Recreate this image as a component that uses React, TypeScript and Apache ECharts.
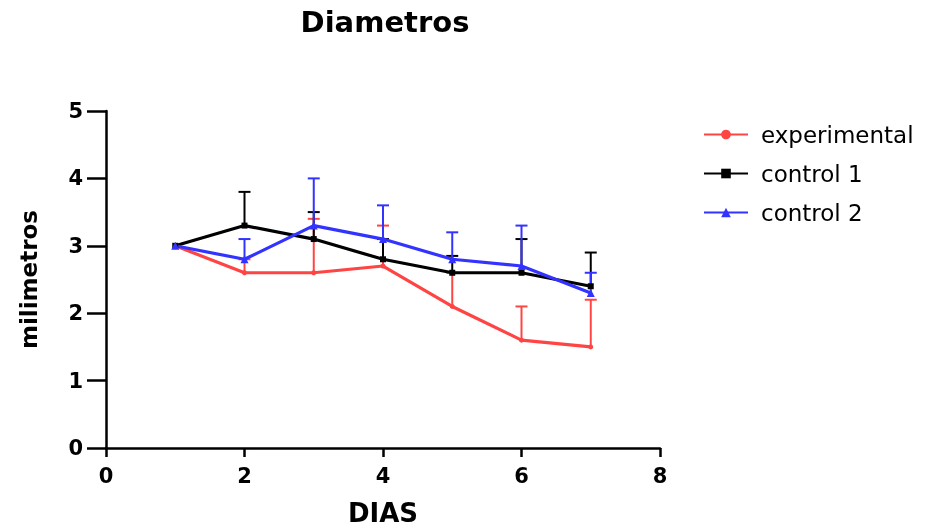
import React, { useEffect, useRef } from "react";
import * as echarts from "echarts";

const days = [1, 2, 3, 4, 5, 6, 7];
const experimental = [3.0, 2.6, 2.6, 2.7, 2.1, 1.6, 1.5];
const experimentalSd = [0, 0.2, 0.8, 0.6, 0.5, 0.5, 0.7];
const control1 = [3.0, 3.3, 3.1, 2.8, 2.6, 2.6, 2.4];
const control1Sd = [0, 0.5, 0.4, 0.3, 0.25, 0.5, 0.5];
const control2 = [3.0, 2.8, 3.3, 3.1, 2.8, 2.7, 2.3];
const control2Sd = [0, 0.3, 0.7, 0.5, 0.4, 0.6, 0.3];
const xTicks = [0, 2, 4, 6, 8];
const yTicks = [0, 1, 2, 3, 4, 5];

const FONT = "'DejaVu Sans', Verdana, sans-serif";

export default function App() {
  const ref = useRef<HTMLDivElement>(null);
  useEffect(() => {
    if (!ref.current) return;
    const chart = echarts.init(ref.current, null, { renderer: "svg" });

    const errSeries = (name: string, vals: number[], sds: number[], color: string) => ({
      name,
      type: "custom",
      z: 1,
      silent: true,
      data: days.map((d, i) => [d, vals[i], vals[i] + sds[i], sds[i]]),
      renderItem: (params: any, api: any) => {
        const sd = api.value(3);
        if (!sd) return null;
        const p0 = api.coord([api.value(0), api.value(1)]);
        const p1 = api.coord([api.value(0), api.value(2)]);
        return {
          type: "group",
          children: [
            { type: "line", shape: { x1: p0[0], y1: p0[1], x2: p1[0], y2: p1[1] }, style: { stroke: color, lineWidth: 2 } },
            { type: "line", shape: { x1: p1[0] - 6, y1: p1[1], x2: p1[0] + 6, y2: p1[1] }, style: { stroke: color, lineWidth: 2 } },
          ],
        };
      },
    });

    const lineSeries = (name: string, vals: number[], color: string, symbol: string, size: number) => ({
      name,
      type: "line",
      z: 3,
      data: days.map((d, i) => [d, vals[i]]),
      symbol,
      symbolSize: size,
      showSymbol: true,
      lineStyle: { color, width: 3.2 },
      itemStyle: { color },
    });

    chart.setOption({
      animation: false,
      textStyle: { fontFamily: FONT },
      title: {
        text: "Diametros",
        left: 380,
        top: 2,
        textAlign: "center",
        textStyle: { fontSize: 29, fontWeight: "bold", color: "#000", fontFamily: FONT },
      },
      legend: {
        orient: "vertical",
        left: 698,
        top: 118,
        itemWidth: 44,
        itemHeight: 12,
        itemGap: 16,
        data: ["experimental", "control 1", "control 2"],
        textStyle: { fontSize: 23, color: "#000", fontFamily: FONT, padding: [0, 0, 0, 8] },
      },
      grid: { left: 106, right: 278, top: 111, bottom: 78 },
      xAxis: {
        type: "value",
        min: xTicks[0],
        max: xTicks[xTicks.length - 1],
        interval: 2,
        name: "DIAS",
        nameLocation: "middle",
        nameGap: 52,
        nameTextStyle: { fontSize: 26, fontWeight: "bold", color: "#000", fontFamily: FONT },
        axisLine: { onZero: false, lineStyle: { color: "#000", width: 2.5 } },
        axisTick: { show: true, length: 9, lineStyle: { color: "#000", width: 2.5 } },
        axisLabel: { fontSize: 21, fontWeight: "bold", color: "#000", margin: 17, fontFamily: FONT },
        splitLine: { show: false },
      },
      yAxis: {
        type: "value",
        min: yTicks[0],
        max: yTicks[yTicks.length - 1],
        interval: 1,
        name: "milimetros",
        nameLocation: "middle",
        nameGap: 66,
        nameRotate: 90,
        nameTextStyle: { fontSize: 23, fontWeight: "bold", color: "#000", fontFamily: FONT },
        axisLine: { show: true, onZero: false, lineStyle: { color: "#000", width: 2.5 } },
        axisTick: { show: true, length: 19, lineStyle: { color: "#000", width: 2.5 } },
        axisLabel: { fontSize: 21, fontWeight: "bold", color: "#000", margin: 23, fontFamily: FONT },
        splitLine: { show: false },
      },
      series: [
        errSeries("experimental-err", experimental, experimentalSd, "#ff4444"),
        errSeries("control1-err", control1, control1Sd, "#000000"),
        errSeries("control2-err", control2, control2Sd, "#3333ff"),
        lineSeries("experimental", experimental, "#ff4444", "circle", 5),
        lineSeries("control 1", control1, "#000000", "rect", 6),
        lineSeries("control 2", control2, "#3333ff", "triangle", 8),
      ],
    });
    return () => chart.dispose();
  }, []);
  return <div ref={ref} style={{ position: "fixed", left: 0, top: 0, width: 938, height: 531 }} />;
}
